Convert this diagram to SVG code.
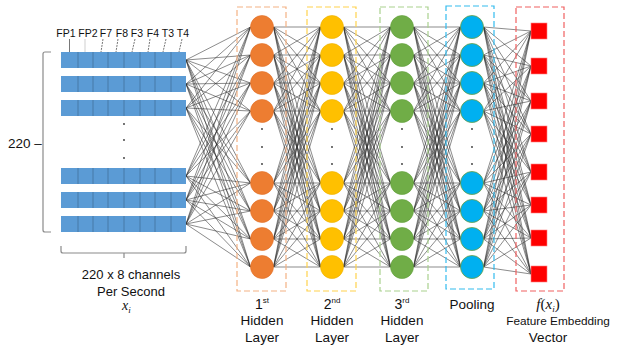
<svg xmlns="http://www.w3.org/2000/svg" xmlns:xlink="http://www.w3.org/1999/xlink" width="619" height="351" viewBox="0 0 619 351">
<style>
.t{font-family:"Liberation Sans",Arial,sans-serif;fill:#111;}
.m{font-family:"Liberation Serif","Times New Roman",serif;font-style:italic;fill:#111;}
.w{fill:none;stroke:#2e2e2e;stroke-width:0.65;stroke-opacity:0.85;}
.o{fill:#ED7D31;stroke:#E07028;stroke-width:0.6;}
.y{fill:#FFC000;stroke:#EDB000;stroke-width:0.6;}
.g{fill:#70AD47;stroke:#62A03A;stroke-width:0.6;}
.b{fill:#00B0F0;stroke:#6FA040;stroke-width:0.8;}
.r{fill:#FF0000;stroke:#FF8080;stroke-width:0.6;}
.box{fill:none;stroke-width:1.2;stroke-dasharray:6,3;}
.dot{fill:#333;}
.br{fill:none;stroke:#8a8a8a;stroke-width:1.2;}
.ld{stroke:#555;stroke-width:0.8;}
</style>
<defs>
<g id="row">
<rect x="0" y="0" width="125" height="16" fill="#5B9BD5"/>
<path d="M17 0V16M32 0V16M47 0V16M63 0V16M79 0V16M94 0V16M110 0V16" stroke="#41719C" stroke-width="0.8"/>
</g>
<path id="mesh" d="M0 27L47 27M0 27L47 55M0 27L47 83M0 27L47 111M0 27L47 183M0 27L47 211M0 27L47 239M0 27L47 267M0 55L47 27M0 55L47 55M0 55L47 83M0 55L47 111M0 55L47 183M0 55L47 211M0 55L47 239M0 55L47 267M0 83L47 27M0 83L47 55M0 83L47 83M0 83L47 111M0 83L47 183M0 83L47 211M0 83L47 239M0 83L47 267M0 111L47 27M0 111L47 55M0 111L47 83M0 111L47 111M0 111L47 183M0 111L47 211M0 111L47 239M0 111L47 267M0 183L47 27M0 183L47 55M0 183L47 83M0 183L47 111M0 183L47 183M0 183L47 211M0 183L47 239M0 183L47 267M0 211L47 27M0 211L47 55M0 211L47 83M0 211L47 111M0 211L47 183M0 211L47 211M0 211L47 239M0 211L47 267M0 239L47 27M0 239L47 55M0 239L47 83M0 239L47 111M0 239L47 183M0 239L47 211M0 239L47 239M0 239L47 267M0 267L47 27M0 267L47 55M0 267L47 83M0 267L47 111M0 267L47 183M0 267L47 211M0 267L47 239M0 267L47 267"/>
</defs>
<rect width="619" height="351" fill="#fff"/>

<g id="connectors">
<path class="w" d="M186 60L250.5 27M186 60L250.5 55M186 60L250.5 83M186 60L250.5 111M186 60L250.5 183M186 60L250.5 211M186 60L250.5 239M186 60L250.5 267M186 84L250.5 27M186 84L250.5 55M186 84L250.5 83M186 84L250.5 111M186 84L250.5 183M186 84L250.5 211M186 84L250.5 239M186 84L250.5 267M186 108L250.5 27M186 108L250.5 55M186 108L250.5 83M186 108L250.5 111M186 108L250.5 183M186 108L250.5 211M186 108L250.5 239M186 108L250.5 267M186 176L250.5 27M186 176L250.5 55M186 176L250.5 83M186 176L250.5 111M186 176L250.5 183M186 176L250.5 211M186 176L250.5 239M186 176L250.5 267M186 200L250.5 27M186 200L250.5 55M186 200L250.5 83M186 200L250.5 111M186 200L250.5 183M186 200L250.5 211M186 200L250.5 239M186 200L250.5 267M186 224L250.5 27M186 224L250.5 55M186 224L250.5 83M186 224L250.5 111M186 224L250.5 183M186 224L250.5 211M186 224L250.5 239M186 224L250.5 267"/>
<use xlink:href="#mesh" class="w" transform="translate(273.5,0)"/>
<use xlink:href="#mesh" class="w" transform="translate(343.5,0)"/>
<use xlink:href="#mesh" class="w" transform="translate(413.5,0)"/>
<path class="w" d="M483.5 27L531 31M483.5 27L531 66M483.5 27L531 101M483.5 27L531 134M483.5 27L531 172M483.5 27L531 205M483.5 27L531 238M483.5 27L531 274M483.5 55L531 31M483.5 55L531 66M483.5 55L531 101M483.5 55L531 134M483.5 55L531 172M483.5 55L531 205M483.5 55L531 238M483.5 55L531 274M483.5 83L531 31M483.5 83L531 66M483.5 83L531 101M483.5 83L531 134M483.5 83L531 172M483.5 83L531 205M483.5 83L531 238M483.5 83L531 274M483.5 111L531 31M483.5 111L531 66M483.5 111L531 101M483.5 111L531 134M483.5 111L531 172M483.5 111L531 205M483.5 111L531 238M483.5 111L531 274M483.5 183L531 31M483.5 183L531 66M483.5 183L531 101M483.5 183L531 134M483.5 183L531 172M483.5 183L531 205M483.5 183L531 238M483.5 183L531 274M483.5 211L531 31M483.5 211L531 66M483.5 211L531 101M483.5 211L531 134M483.5 211L531 172M483.5 211L531 205M483.5 211L531 238M483.5 211L531 274M483.5 239L531 31M483.5 239L531 66M483.5 239L531 101M483.5 239L531 134M483.5 239L531 172M483.5 239L531 205M483.5 239L531 238M483.5 239L531 274M483.5 267L531 31M483.5 267L531 66M483.5 267L531 101M483.5 267L531 134M483.5 267L531 172M483.5 267L531 205M483.5 267L531 238M483.5 267L531 274"/>
</g>

<g id="layer-boxes">
<rect class="box" x="237" y="7" width="49" height="284" stroke="#F4B183"/>
<rect class="box" x="307" y="7" width="49" height="284" stroke="#FFD24D"/>
<rect class="box" x="380" y="7" width="48" height="284" stroke="#A9D18E"/>
<rect class="box" x="446" y="6" width="48" height="283" stroke="#33BBEE"/>
<rect class="box" x="516" y="7" width="48" height="284" stroke="#F06060"/>
</g>

<g id="input">
<g id="channel-labels" class="t" font-size="10.5" text-anchor="middle">
<text x="66" y="37">FP1</text><text x="88" y="37">FP2</text><text x="106" y="37">F7</text><text x="122" y="37">F8</text><text x="137" y="37">F3</text><text x="153" y="37">F4</text><text x="168" y="37">T3</text><text x="183" y="37">T4</text>
</g>
<path class="ld" d="M69.5 39V52"/>
<path class="ld" stroke-opacity="0.35" d="M85 39V52"/>
<path class="ld" stroke-dasharray="2,1" d="M103 39L101 52M118 39L116 52M135 39L132 52M150 39L148 52M166 39L163 52M182 39L179 52"/>
<g id="row1"><use xlink:href="#row" x="61" y="52"/></g>
<g id="row2"><use xlink:href="#row" x="61" y="76"/></g>
<g id="row3"><use xlink:href="#row" x="61" y="100"/></g>
<g id="row4"><use xlink:href="#row" x="61" y="168"/></g>
<g id="row5"><use xlink:href="#row" x="61" y="192"/></g>
<g id="row6"><use xlink:href="#row" x="61" y="216"/></g>
<circle class="dot" cx="124" cy="124" r="0.9"/><circle class="dot" cx="124" cy="140" r="0.9"/><circle class="dot" cx="124" cy="158" r="0.9"/>
<path class="br" d="M51 52H45Q43 52 43 54V230Q43 232 45 232H51"/>
<text class="t" x="8" y="148" font-size="13.5">220 –</text>
<path class="br" d="M61 246V251Q61 253 63 253H184Q186 253 186 251V246M124 253V258"/>
<text class="t" x="131" y="279" font-size="13" text-anchor="middle">220 x 8 channels</text>
<text class="t" x="131" y="296" font-size="13" text-anchor="middle">Per Second</text>
<text class="m" x="122" y="310" font-size="14">x<tspan font-size="9" dy="3">i</tspan></text>
</g>

<g id="hidden1">
<g id="h1n1"><circle class="o" cx="262" cy="27" r="11.5"/></g>
<g id="h1n2"><circle class="o" cx="262" cy="55" r="11.5"/></g>
<g id="h1n3"><circle class="o" cx="262" cy="83" r="11.5"/></g>
<g id="h1n4"><circle class="o" cx="262" cy="111" r="11.5"/></g>
<g id="h1n5"><circle class="o" cx="262" cy="183" r="11.5"/></g>
<g id="h1n6"><circle class="o" cx="262" cy="211" r="11.5"/></g>
<g id="h1n7"><circle class="o" cx="262" cy="239" r="11.5"/></g>
<g id="h1n8"><circle class="o" cx="262" cy="267" r="11.5"/></g>
<circle class="dot" cx="262" cy="129" r="0.9"/><circle class="dot" cx="262" cy="147" r="0.9"/><circle class="dot" cx="262" cy="164" r="0.9"/>
<text class="t" x="262" y="309" font-size="14" text-anchor="middle">1<tspan font-size="8" dy="-6">st</tspan></text>
<text class="t" x="262" y="325" font-size="13.5" text-anchor="middle">Hidden</text>
<text class="t" x="262" y="342" font-size="13.5" text-anchor="middle">Layer</text>
</g>

<g id="hidden2">
<g id="h2n1"><circle class="y" cx="332" cy="27" r="11.5"/></g>
<g id="h2n2"><circle class="y" cx="332" cy="55" r="11.5"/></g>
<g id="h2n3"><circle class="y" cx="332" cy="83" r="11.5"/></g>
<g id="h2n4"><circle class="y" cx="332" cy="111" r="11.5"/></g>
<g id="h2n5"><circle class="y" cx="332" cy="183" r="11.5"/></g>
<g id="h2n6"><circle class="y" cx="332" cy="211" r="11.5"/></g>
<g id="h2n7"><circle class="y" cx="332" cy="239" r="11.5"/></g>
<g id="h2n8"><circle class="y" cx="332" cy="267" r="11.5"/></g>
<circle class="dot" cx="332" cy="129" r="0.9"/><circle class="dot" cx="332" cy="147" r="0.9"/><circle class="dot" cx="332" cy="164" r="0.9"/>
<text class="t" x="332" y="309" font-size="14" text-anchor="middle">2<tspan font-size="8" dy="-6">nd</tspan></text>
<text class="t" x="332" y="325" font-size="13.5" text-anchor="middle">Hidden</text>
<text class="t" x="332" y="342" font-size="13.5" text-anchor="middle">Layer</text>
</g>

<g id="hidden3">
<g id="h3n1"><circle class="g" cx="402" cy="27" r="11.5"/></g>
<g id="h3n2"><circle class="g" cx="402" cy="55" r="11.5"/></g>
<g id="h3n3"><circle class="g" cx="402" cy="83" r="11.5"/></g>
<g id="h3n4"><circle class="g" cx="402" cy="111" r="11.5"/></g>
<g id="h3n5"><circle class="g" cx="402" cy="183" r="11.5"/></g>
<g id="h3n6"><circle class="g" cx="402" cy="211" r="11.5"/></g>
<g id="h3n7"><circle class="g" cx="402" cy="239" r="11.5"/></g>
<g id="h3n8"><circle class="g" cx="402" cy="267" r="11.5"/></g>
<circle class="dot" cx="402" cy="129" r="0.9"/><circle class="dot" cx="402" cy="147" r="0.9"/><circle class="dot" cx="402" cy="164" r="0.9"/>
<text class="t" x="402" y="309" font-size="14" text-anchor="middle">3<tspan font-size="8" dy="-6">rd</tspan></text>
<text class="t" x="402" y="325" font-size="13.5" text-anchor="middle">Hidden</text>
<text class="t" x="402" y="342" font-size="13.5" text-anchor="middle">Layer</text>
</g>

<g id="pooling">
<g id="pn1"><circle class="b" cx="472" cy="27" r="11.5"/></g>
<g id="pn2"><circle class="b" cx="472" cy="55" r="11.5"/></g>
<g id="pn3"><circle class="b" cx="472" cy="83" r="11.5"/></g>
<g id="pn4"><circle class="b" cx="472" cy="111" r="11.5"/></g>
<g id="pn5"><circle class="b" cx="472" cy="183" r="11.5"/></g>
<g id="pn6"><circle class="b" cx="472" cy="211" r="11.5"/></g>
<g id="pn7"><circle class="b" cx="472" cy="239" r="11.5"/></g>
<g id="pn8"><circle class="b" cx="472" cy="267" r="11.5"/></g>
<circle class="dot" cx="472" cy="129" r="0.9"/><circle class="dot" cx="472" cy="147" r="0.9"/><circle class="dot" cx="472" cy="164" r="0.9"/>
<text class="t" x="472" y="309" font-size="13.5" text-anchor="middle">Pooling</text>
</g>

<g id="embedding">
<g id="en1"><rect class="r" x="531" y="23" width="16" height="16"/></g>
<g id="en2"><rect class="r" x="531" y="58" width="16" height="16"/></g>
<g id="en3"><rect class="r" x="531" y="93" width="16" height="16"/></g>
<g id="en4"><rect class="r" x="531" y="126" width="16" height="16"/></g>
<g id="en5"><rect class="r" x="531" y="164" width="16" height="16"/></g>
<g id="en6"><rect class="r" x="531" y="197" width="16" height="16"/></g>
<g id="en7"><rect class="r" x="531" y="230" width="16" height="16"/></g>
<g id="en8"><rect class="r" x="531" y="266" width="16" height="16"/></g>
<text class="m" x="548" y="309" font-size="15" text-anchor="middle">f<tspan font-style="normal">(</tspan>x<tspan font-size="9" dy="3">i</tspan><tspan font-style="normal" dy="-3">)</tspan></text>
<text class="t" x="558" y="325" font-size="11.8" text-anchor="middle">Feature Embedding</text>
<text class="t" x="548" y="342" font-size="13.5" text-anchor="middle">Vector</text>
</g>
</svg>
